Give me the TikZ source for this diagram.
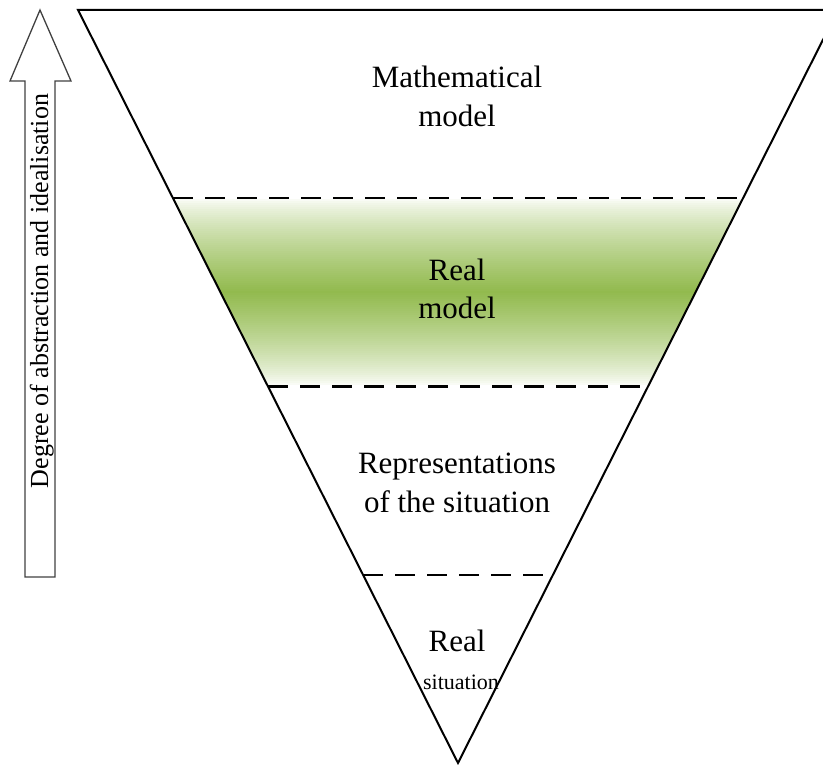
\documentclass[tikz,border=0pt]{standalone}
\usepackage{fontspec}
\setmainfont{Liberation Serif}
\usetikzlibrary{calc}
\definecolor{bandgreen}{RGB}{146,186,78}
\begin{document}
\begin{tikzpicture}[x=1pt,y=-1pt,
  tri/.style={line width=2pt, line join=miter},
  sepline/.style={line width=2.2pt, dash pattern=on 20pt off 12pt},
  lbl/.style={inner sep=0pt, font=\fontsize{31}{39}\selectfont, anchor=base},
  smalllbl/.style={inner sep=0pt, font=\fontsize{22}{28}\selectfont, anchor=base},
  uparrow/.style={line width=1.3pt, draw=black!75, line join=miter}]
\useasboundingbox (0,0) rectangle (823,765);
\coordinate (TL) at (78,10);
\coordinate (TR) at (838,10);
\coordinate (B) at (458,763);
\begin{scope}
  \clip (TL) -- (TR) -- (B) -- cycle;
  \foreach \i in {0,...,93} {
    \pgfmathsetmacro{\ya}{199+2*\i}
    \pgfmathsetmacro{\yb}{\ya+2.6}
    \pgfmathsetmacro{\d}{min(abs(\ya+1-292)/94,1)}
    \pgfmathsetmacro{\p}{100*(1-\d)^0.75}
    \fill[bandgreen!\p!white] (0,\ya) rectangle (823,\yb);
  }
\end{scope}
\coordinate (L1) at ($(TL)!0.25!(B)$);
\coordinate (R1) at ($(TR)!0.25!(B)$);
\coordinate (L2) at ($(TL)!0.5!(B)$);
\coordinate (R2) at ($(TR)!0.5!(B)$);
\coordinate (L3) at ($(TL)!0.75!(B)$);
\coordinate (R3) at ($(TR)!0.75!(B)$);
\draw[sepline] (L1) -- (R1);
\draw[sepline] (L2) -- (R2);
\draw[sepline] (L3) -- (R3);
\draw[tri] (TL) -- (TR) -- (B) -- cycle;
% labels
\node[lbl] (m1) at (457,88) {Mathematical};
\node[lbl] (m2) at (457,127) {model};
\node[lbl] (r1) at (457,280) {Real};
\node[lbl] (r2) at (457,318) {model};
\node[lbl] (p1) at (457,473) {Representations};
\node[lbl] (p2) at (457,512) {of the situation};
\node[lbl] (s1) at (457,651) {Real};
\node[smalllbl] (s2) at (461,689) {situation};
% arrow
\draw[uparrow] (40,10) -- (71,81) -- (55,81) -- (55,577) -- (25,577) -- (25,81) -- (10,81) -- cycle;
\node[rotate=90, anchor=base, inner sep=0pt, font=\fontsize{26}{30}\selectfont] (deg) at (48,291) {Degree of abstraction and idealisation};
\end{tikzpicture}
\end{document}
